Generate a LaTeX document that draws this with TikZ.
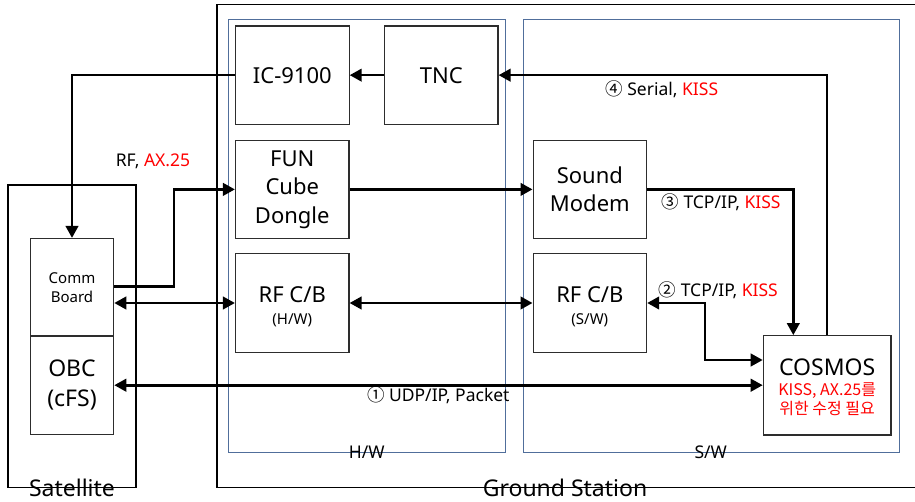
\documentclass[tikz,border=0pt]{standalone}
\usepackage{fontspec}
\setmainfont{Noto Sans}
\newfontfamily\cjk{Noto Sans CJK KR}
\usetikzlibrary{arrows.meta}
\definecolor{kred}{RGB}{255,0,0}
\definecolor{grpblue}{RGB}{80,110,155}
\definecolor{boxgray}{RGB}{45,45,45}
\begin{document}
\begin{tikzpicture}[x=1pt,y=-1pt,
  box/.style={draw=boxgray, line width=1.2pt, minimum width=113.5pt, minimum height=98.2pt,
    inner sep=0pt, font=\fontsize{22}{28.5}\selectfont, align=center},
  frame/.style={draw=black, line width=1.5pt},
  grp/.style={draw=grpblue, line width=0.9pt},
  arr/.style={line width=2.6pt, -{Triangle[length=12pt,width=12.5pt]}},
  darr/.style={line width=2.6pt, {Triangle[length=12pt,width=12.5pt]}-{Triangle[length=12pt,width=12.5pt]}},
  lbl/.style={font=\fontsize{17.5}{20}\selectfont, inner sep=0pt},
  big/.style={font=\fontsize{23}{26}\selectfont, inner sep=0pt},
  small/.style={font=\fontsize{15}{17}\selectfont, inner sep=0pt}
]
\useasboundingbox (0,0) rectangle (915,502);
% frames
\draw[frame] (217,4.5) rectangle (918,487.5);
\draw[frame] (8,185) rectangle (136,487.5);
\draw[grp] (228.3,19.3) rectangle (505,452.7);
\draw[grp] (523.8,19.3) rectangle (899,452.7);
% boxes
\node[box] (ic) at (292.35,75.15) {IC-9100};
\node[box] (tnc) at (441.25,75.15) {TNC};
\node[box] (fun) at (292.25,189.4) {FUN\\Cube\\Dongle};
\node[box] (rfhw) at (292.25,303) {};
\node[box] (sm) at (589.85,189.4) {Sound\\Modem};
\node[box] (rfsw) at (589.85,303) {};
\node[box, minimum width=127.7pt, minimum height=99.3pt] (cosmos) at (827.15,385.35) {};
\node[box, minimum width=83.4pt, minimum height=98pt, font=\fontsize{15}{18.5}\selectfont] (comm) at (72,287.5) {Comm\\Board};
\node[box, minimum width=83.4pt, minimum height=99pt, font=\fontsize{23}{30}\selectfont] (obc) at (72,385.2) {OBC\\(cFS)};
% box inner texts
\node[font=\fontsize{22}{26}\selectfont, inner sep=0pt] (rfhwt) at (292.25,295) {RF C/B};
\node[small] (rfhws) at (292.25,320) {(H/W)};
\node[font=\fontsize{22}{26}\selectfont, inner sep=0pt] (rfswt) at (589.85,295) {RF C/B};
\node[small] (rfsws) at (589.85,320) {(S/W)};
\node[big] (cost) at (827.15,367.3) {COSMOS};
\node[font=\fontsize{16}{18}\selectfont, inner sep=0pt, text=kred] (cos1) at (827.15,391) {\cjk KISS, AX.25를};
\node[font=\fontsize{16}{18}\selectfont, inner sep=0pt, text=kred] (cos2) at (827.15,408.5) {\cjk 위한 수정 필요};
% junctions
\coordinate (j1) at (174,189.4);
\coordinate (j2) at (793.3,0);
\coordinate (j3) at (705,360);
% connectors
\draw[arr] (tnc.west) -- (ic.east);
\draw[arr] (cosmos.north) |- (tnc.east);
\draw[arr] (ic.west) -| (comm.north);
\draw[arr] (comm.east |- 0,286.7) -| (j1) -- (fun.west);
\draw[darr] (comm.east |- rfhw.west) -- (rfhw.west);
\draw[arr] (fun.east) -- (sm.west);
\draw[darr] (rfhw.east) -- (rfsw.west);
\draw[arr] (sm.east) -| (j2 |- cosmos.north);
\draw[darr] (rfsw.east) -| (j3) -- (j3 -| cosmos.west);
\draw[darr] (obc.east) -- (obc.east -| cosmos.west);
% labels
\node[lbl] (l0) at (153,161.7) {RF, \textcolor{kred}{AX.25}};
\node[lbl] (l4) at (661.7,89.3) {{\cjk ④} Serial, \textcolor{kred}{KISS}};
\node[lbl] (l3) at (721,202.7) {{\cjk ③} TCP/IP, \textcolor{kred}{KISS}};
\node[lbl] (l2) at (718.3,290) {{\cjk ②} TCP/IP, \textcolor{kred}{KISS}};
\node[lbl] (l1) at (438.3,395) {{\cjk ①} UDP/IP, Packet};
\node[lbl] (hwl) at (366.7,452.7) {H/W};
\node[lbl] (swl) at (710.8,452.7) {S/W};
\node[big] (satl) at (72,488) {Satellite};
\node[big] (gsl) at (565,488) {Ground Station};
\end{tikzpicture}
\end{document}
